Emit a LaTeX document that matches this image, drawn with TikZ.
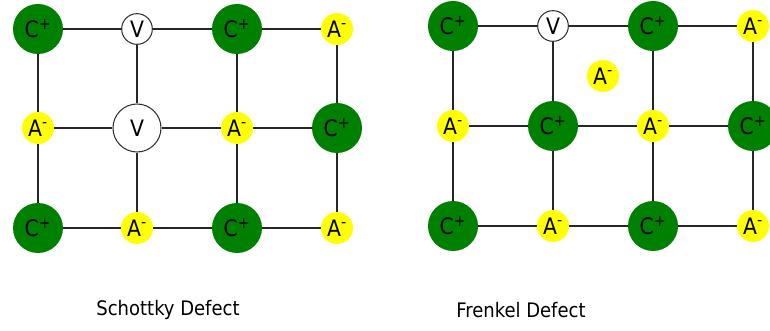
\documentclass[tikz,border=0pt]{standalone}
\usepackage{fontspec}
\setmainfont{DejaVu Sans Condensed}
\definecolor{iongreen}{RGB}{0,128,0}
\definecolor{ionyellow}{RGB}{255,255,0}
\tikzset{
  ionfont/.style={font=\fontsize{17}{19}\selectfont},
  cation/.style={circle,fill=iongreen,inner sep=0pt,minimum size=37.5pt,ionfont},
  anion/.style={circle,fill=ionyellow,inner sep=0pt,minimum size=24pt,ionfont},
  vacancy/.style={circle,draw=black!80,line width=0.8pt,fill=white,inner sep=0pt,minimum size=23pt,ionfont},
  bigvacancy/.style={vacancy,minimum size=36pt},
  bond/.style={draw=black!85,line width=1.4pt},
  caption/.style={font=\fontsize{15}{18}\selectfont}
}
\newcommand{\Cp}{C\textsuperscript{+}}
\newcommand{\Am}{A\textsuperscript{-}}
\begin{document}
\begin{tikzpicture}[x=0.75pt,y=-0.75pt]
  \useasboundingbox (0,0) rectangle (770,331);

  % Schottky defect: one cation and one anion missing
  \node[cation]     (s11) at (38,29)   {\Cp};
  \node[vacancy]    (s12) at (137,29)  {V};
  \node[cation]     (s13) at (237,29)  {\Cp};
  \node[anion]      (s14) at (337,29)  {\Am};
  \node[anion]      (s21) at (38,128)  {\Am};
  \node[bigvacancy] (s22) at (137,128) {V};
  \node[anion]      (s23) at (237,128) {\Am};
  \node[cation]     (s24) at (337,128) {\Cp};
  \node[cation]     (s31) at (38,228)  {\Cp};
  \node[anion]      (s32) at (137,228) {\Am};
  \node[cation]     (s33) at (237,228) {\Cp};
  \node[anion]      (s34) at (337,228) {\Am};

  % Schottky lattice bonds
  \draw[bond] (s11) -- (s12) -- (s13) -- (s14);
  \draw[bond] (s21) -- (s22) -- (s23) -- (s24);
  \draw[bond] (s31) -- (s32) -- (s33) -- (s34);
  \draw[bond] (s11) -- (s21) -- (s31);
  \draw[bond] (s12) -- (s22) -- (s32);
  \draw[bond] (s13) -- (s23) -- (s33);
  \draw[bond] (s14) -- (s24) -- (s34);

  % Frenkel defect: anion moved to an interstitial site
  \node[cation]  (f11) at (453,26)  {\Cp};
  \node[vacancy] (f12) at (553,26)  {V};
  \node[cation]  (f13) at (653,26)  {\Cp};
  \node[anion]   (f14) at (753,26)  {\Am};
  \node[anion]   (fint) at (603,76) {\Am};
  \node[anion]   (f21) at (453,126) {\Am};
  \node[cation]  (f22) at (553,126) {\Cp};
  \node[anion]   (f23) at (653,126) {\Am};
  \node[cation]  (f24) at (753,126) {\Cp};
  \node[cation]  (f31) at (453,226) {\Cp};
  \node[anion]   (f32) at (553,226) {\Am};
  \node[cation]  (f33) at (653,226) {\Cp};
  \node[anion]   (f34) at (753,226) {\Am};

  % Frenkel lattice bonds
  \draw[bond] (f11) -- (f12) -- (f13) -- (f14);
  \draw[bond] (f21) -- (f22) -- (f23) -- (f24);
  \draw[bond] (f31) -- (f32) -- (f33) -- (f34);
  \draw[bond] (f11) -- (f21) -- (f31);
  \draw[bond] (f12) -- (f22) -- (f32);
  \draw[bond] (f13) -- (f23) -- (f33);
  \draw[bond] (f14) -- (f24) -- (f34);

  % captions
  \node[caption] (schottky) at (168,310) {Schottky Defect};
  \node[caption] (frenkel)  at (521,310) {Frenkel Defect};
\end{tikzpicture}
\end{document}
